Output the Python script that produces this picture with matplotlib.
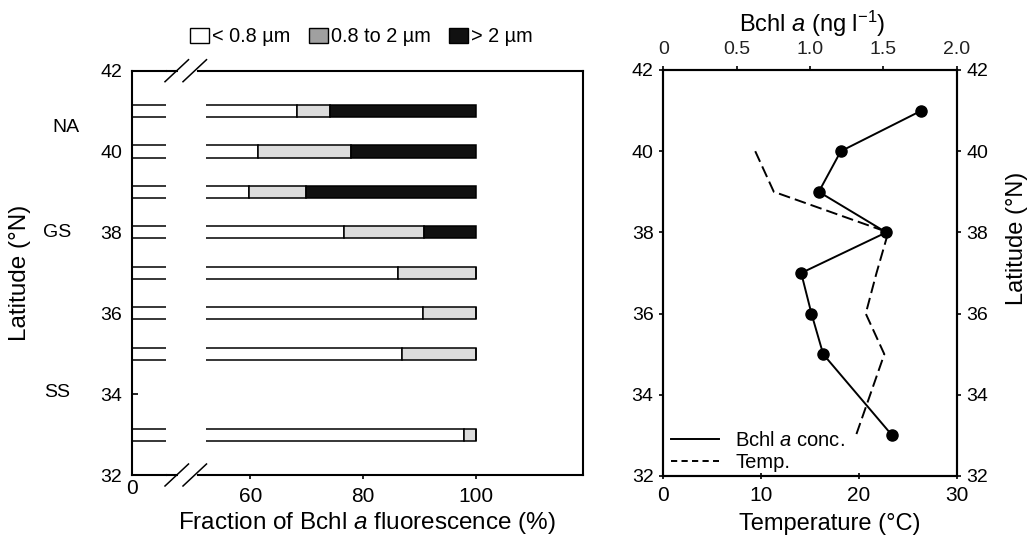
import matplotlib
matplotlib.use("Agg")
import matplotlib.pyplot as plt
from matplotlib.patches import Patch, Rectangle
from matplotlib.lines import Line2D
import matplotlib.transforms as mtransforms

plt.rcParams['font.family'] = ['Liberation Sans', 'DejaVu Sans']
plt.rcParams['mathtext.fontset'] = 'custom'
plt.rcParams['mathtext.rm'] = 'Liberation Sans'
plt.rcParams['mathtext.it'] = 'Liberation Sans:italic'
plt.rcParams['mathtext.bf'] = 'Liberation Sans:bold'
plt.rcParams['mathtext.sf'] = 'Liberation Sans'

# ---------------- data ----------------
lat_frac = [41, 40, 39, 38, 37, 36, 35, 33]
frac_lt08 = [68.3, 61.4, 59.8, 76.6, 86.3, 90.6, 87.0, 98.0]   # < 0.8 um
frac_08_2 = [5.9, 16.5, 10.1, 14.2, 13.7, 9.4, 13.0, 2.0]      # 0.8 to 2 um
frac_gt2 = [25.8, 22.1, 30.1, 9.2, 0.0, 0.0, 0.0, 0.0]         # > 2 um
size_labels = ['< 0.8 µm', '0.8 to 2 µm', '> 2 µm']

region_labels = ['NA', 'GS', 'SS']
region_lat = [40.6, 38.0, 34.05]

lat_bchl = [41, 40, 39, 38, 37, 36, 35, 33]
bchl = [1.76, 1.21, 1.06, 1.52, 0.94, 1.01, 1.09, 1.56]

lat_temp = [40, 39, 38, 37, 36, 35, 33]
temp = [9.4, 11.3, 23.0, 21.8, 20.7, 22.6, 19.7]

lat_ticks = [32, 34, 36, 38, 40, 42]
frac_ticks = [60, 80, 100]
temp_ticks = [0, 10, 20, 30]
bchl_ticks = [0, 0.5, 1.0, 1.5, 2.0]
bchl_ticklabels = ['0', '0.5', '1.0', '1.5', '2.0']

# ---------------- figure ----------------
W, H = 1030, 537
fig = plt.figure(figsize=(W / 100, H / 100), dpi=100)


def fx(px):
    return px / W


def fy(py):
    return 1 - py / H


SPINE_LW = 1.5
BAR_LW = 1.1
bar_colors = ['white', '#dcdcdc', '#111111']
legend_colors = ['white', '#a0a0a0', '#111111']

# left panel: stub axes and main axes (broken x axis)
top_l, bot_l = 70.7, 475.0
ax_l = fig.add_axes([fx(132), fy(bot_l), fx(165.7) - fx(132), fy(top_l) - fy(bot_l)])
ax_b = fig.add_axes([fx(198), fy(bot_l), fx(583) - fx(198), fy(top_l) - fy(bot_l)])

bar_h = 0.3


def draw_bars(ax, clip=None):
    arts = []
    lefts = [0.0] * len(lat_frac)
    for vals, col in zip([frac_lt08, frac_08_2, frac_gt2], bar_colors):
        bc = ax.barh(lat_frac, vals, left=lefts, height=bar_h, color=col,
                     edgecolor='black', linewidth=BAR_LW, zorder=2)
        arts.extend(bc.patches)
        lefts = [a + b for a, b in zip(lefts, vals)]
    if clip is not None:
        for p in arts:
            p.set_clip_path(clip)
    return arts


draw_bars(ax_l)
ax_l.set_xlim(0, 6)
ax_l.set_ylim(32, 42)

x0_b, x1_b = 50.67, 119.1
ax_b.set_xlim(x0_b, x1_b)
ax_b.set_ylim(32, 42)
clip_rect = Rectangle((52.1, 31), 100, 12, transform=ax_b.transData)
draw_bars(ax_b, clip=clip_rect)

for ax in (ax_l, ax_b):
    for s in ax.spines.values():
        s.set_linewidth(SPINE_LW)
ax_l.spines['right'].set_visible(False)
ax_b.spines['left'].set_visible(False)

ax_l.set_yticks(lat_ticks)
ax_l.tick_params(axis='y', direction='in', length=4.3, width=1.2, labelsize=14, pad=7)
ax_l.set_xticks([0])
ax_l.tick_params(axis='x', length=0, labelsize=15, pad=3)

ax_b.set_yticks([])
ax_b.set_xticks(frac_ticks)
ax_b.tick_params(axis='x', direction='out', length=3, width=1.2, labelsize=15, pad=6)

# spine continuation of the stub axes up to the break
ext = (178 - 132) / (165.7 - 132)
for yy in (0, 1):
    ax_l.add_line(Line2D([1, ext], [yy, yy], transform=ax_l.transAxes,
                         color='black', lw=SPINE_LW, clip_on=False,
                         solid_capstyle='butt'))

# break marks
for ymid in (top_l, bot_l):
    for xs in (165, 183):
        fig.add_artist(Line2D([fx(xs), fx(xs + 23.5)], [fy(ymid + 11), fy(ymid - 11)],
                              transform=fig.transFigure, color='black', lw=1.1))

# region labels
btrans = mtransforms.blended_transform_factory(fig.transFigure, ax_l.transData)
for lab, la, xp in zip(region_labels, region_lat, [66, 57, 57]):
    fig.text(fx(xp), la, lab, transform=btrans, ha='center', va='center', fontsize=14)

fig.text(fx(20), fy(273), 'Latitude (°N)', rotation=90, ha='center', va='center', fontsize=17.5)
fig.text(fx(366.5), fy(523), 'Fraction of Bchl $\\mathit{a}$ fluorescence (%)',
         ha='center', va='center', fontsize=17.5)

# size-class legend
handles = [Patch(facecolor=c, edgecolor='black', linewidth=1.0) for c in legend_colors]
fig.legend(handles, size_labels, loc='center left', bbox_to_anchor=(fx(190), fy(37)),
           ncol=3, frameon=False, fontsize=14.3, handlelength=0.95, handleheight=0.8,
           handletextpad=0.15, columnspacing=0.95, borderpad=0, borderaxespad=0)

# ---------------- right panel ----------------
top_r, bot_r = 70.0, 476.0
ax_t = fig.add_axes([fx(663.3), fy(bot_r), fx(956.7) - fx(663.3), fy(top_r) - fy(bot_r)])
ax_c = ax_t.twiny()

ax_t.plot(temp, lat_temp, color='black', lw=1.4, linestyle=(0, (6, 2.6)))
ax_c.plot(bchl, lat_bchl, color='black', lw=1.4, marker='o', markersize=8)

ax_t.set_xlim(0, 30)
ax_c.set_xlim(0, 2.0)
ax_t.set_ylim(32, 42)

for ax in (ax_t, ax_c):
    for s in ax.spines.values():
        s.set_linewidth(SPINE_LW)

ax_t.set_xticks(temp_ticks)
ax_t.tick_params(axis='x', direction='inout', length=5, width=1.2, labelsize=15, pad=5)
ax_t.set_yticks(lat_ticks)
ax_t.tick_params(axis='y', direction='out', length=3, width=1.2, labelsize=14,
                 left=True, right=True, labelleft=True, labelright=True, pad=4)
ax_c.set_xticks(bchl_ticks)
ax_c.set_xticklabels(bchl_ticklabels)
ax_c.tick_params(axis='x', direction='out', length=3, width=1.2, labelsize=14, pad=6,
                 labelcolor='#222222')

fig.text(fx(1017), fy(238), 'Latitude (°N)', rotation=90, ha='center', va='center',
         fontsize=17)
fig.text(fx(830), fy(524), 'Temperature (°C)', ha='center', va='center', fontsize=17)
fig.text(fx(812), fy(24), 'Bchl $\\mathit{a}$ (ng l$^{-1}$)', ha='center', va='center',
         fontsize=17)

leg_solid = Line2D([], [], color='black', lw=1.4)
leg_dash = Line2D([], [], color='black', lw=1.4, linestyle=(0, (3.2, 2.2)))
ax_c.legend([leg_solid, leg_dash], ['Bchl $\\mathit{a}$ conc.', 'Temp.'], loc='lower left',
            bbox_to_anchor=(0.025, 0.01), frameon=False, fontsize=14.5,
            handlelength=2.4, handletextpad=0.8, labelspacing=0.15,
            borderpad=0, borderaxespad=0)

fig.savefig('out.png', dpi=100)
